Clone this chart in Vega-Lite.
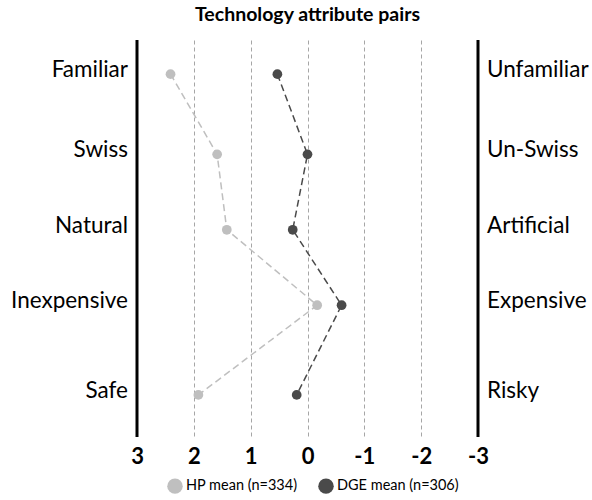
{
  "$schema": "https://vega.github.io/schema/vega-lite/v6.json",
  "width": 341,
  "height": 397,
  "autosize": {"type": "none"},
  "padding": {"left": 137, "top": 40, "right": 114, "bottom": 63},
  "background": "white",
  "config": {"view": {"stroke": null}, "font": "Lato"},
  "title": {"text": "Technology attribute pairs", "font": "Lato", "fontSize": 19.5, "fontWeight": "bold", "color": "#000000", "offset": 13, "anchor": "middle"},
  "datasets": {
    "pts": [
      {"attr": "Familiar", "group": "HP mean (n=334)", "ord": 1, "pos": 91.4, "val": 2.41},
      {"attr": "Swiss", "group": "HP mean (n=334)", "ord": 2, "pos": 71.2, "val": 1.59},
      {"attr": "Natural", "group": "HP mean (n=334)", "ord": 3, "pos": 52.2, "val": 1.42},
      {"attr": "Inexpensive", "group": "HP mean (n=334)", "ord": 4, "pos": 33.2, "val": -0.17},
      {"attr": "Safe", "group": "HP mean (n=334)", "ord": 5, "pos": 10.6, "val": 1.92},
      {"attr": "Familiar", "group": "DGE mean (n=306)", "ord": 1, "pos": 91.4, "val": 0.53},
      {"attr": "Swiss", "group": "DGE mean (n=306)", "ord": 2, "pos": 71.2, "val": 0.0},
      {"attr": "Natural", "group": "DGE mean (n=306)", "ord": 3, "pos": 52.2, "val": 0.26},
      {"attr": "Inexpensive", "group": "DGE mean (n=306)", "ord": 4, "pos": 33.2, "val": -0.6},
      {"attr": "Safe", "group": "DGE mean (n=306)", "ord": 5, "pos": 10.6, "val": 0.19}
    ],
    "labels": [
      {"left": "Familiar", "right": "Unfamiliar", "pos": 91.4},
      {"left": "Swiss", "right": "Un-Swiss", "pos": 71.2},
      {"left": "Natural", "right": "Artificial", "pos": 52.2},
      {"left": "Inexpensive", "right": "Expensive", "pos": 33.2},
      {"left": "Safe", "right": "Risky", "pos": 10.6}
    ],
    "edges": [{"v": 3}, {"v": -3}]
  },
  "layer": [
    {
      "data": {"name": "pts"},
      "transform": [{"filter": "datum.group === 'HP mean (n=334)'"}],
      "mark": {"type": "line", "strokeDash": [7, 4], "strokeWidth": 1.5, "color": "#bfbfbf"},
      "encoding": {
        "x": {"field": "val", "type": "quantitative", "scale": {"domain": [3, -3], "nice": false},
          "axis": {"values": [3, 2, 1, 0, -1, -2, -3], "title": null, "domain": false, "ticks": false, "grid": true, "gridDash": [4, 3], "gridColor": "#a6a6a6", "gridWidth": 1, "labelFont": "Lato", "labelFontSize": 22, "labelFontWeight": "bold", "labelColor": "#000000", "labelPadding": 9, "labelFlush": false, "labelOverlap": false, "labelExpr": "datum.value < 0 ? '-' + abs(datum.value) : '' + datum.value"}},
        "y": {"field": "pos", "type": "quantitative", "scale": {"domain": [0, 100], "nice": false}, "axis": null},
        "order": {"field": "ord", "type": "quantitative"}
      }
    },
    {
      "data": {"name": "pts"},
      "transform": [{"filter": "datum.group === 'DGE mean (n=306)'"}],
      "mark": {"type": "line", "strokeDash": [7, 4], "strokeWidth": 1.5, "color": "#4a4a4a"},
      "encoding": {
        "x": {"field": "val", "type": "quantitative"},
        "y": {"field": "pos", "type": "quantitative"},
        "order": {"field": "ord", "type": "quantitative"}
      }
    },
    {
      "data": {"name": "pts"},
      "mark": {"type": "point", "filled": true, "opacity": 1, "size": 95},
      "encoding": {
        "x": {"field": "val", "type": "quantitative"},
        "y": {"field": "pos", "type": "quantitative"},
        "color": {"field": "group", "type": "nominal", "scale": {"domain": ["HP mean (n=334)", "DGE mean (n=306)"], "range": ["#bfbfbf", "#4a4a4a"]},
          "legend": {"title": null, "orient": "none", "legendX": 30, "legendY": 438, "direction": "horizontal", "symbolType": "circle", "symbolSize": 240, "symbolStrokeWidth": 0, "symbolOpacity": 1, "labelFont": "Lato", "labelFontSize": 14.5, "labelColor": "#000000", "columnPadding": 20, "labelOffset": 3}}
      }
    },
    {
      "data": {"name": "edges"},
      "mark": {"type": "rule", "color": "#000000", "strokeWidth": 3},
      "encoding": {"x": {"field": "v", "type": "quantitative"}}
    },
    {
      "data": {"name": "labels"},
      "mark": {"type": "text", "align": "right", "baseline": "middle", "dx": -9, "dy": -4, "fontSize": 22.5, "font": "Lato", "color": "#000000"},
      "encoding": {"x": {"datum": 3}, "y": {"field": "pos", "type": "quantitative"}, "text": {"field": "left"}}
    },
    {
      "data": {"name": "labels"},
      "mark": {"type": "text", "align": "left", "baseline": "middle", "dx": 9, "dy": -4, "fontSize": 22.5, "font": "Lato", "color": "#000000"},
      "encoding": {"x": {"datum": -3}, "y": {"field": "pos", "type": "quantitative"}, "text": {"field": "right"}}
    }
  ]
}
